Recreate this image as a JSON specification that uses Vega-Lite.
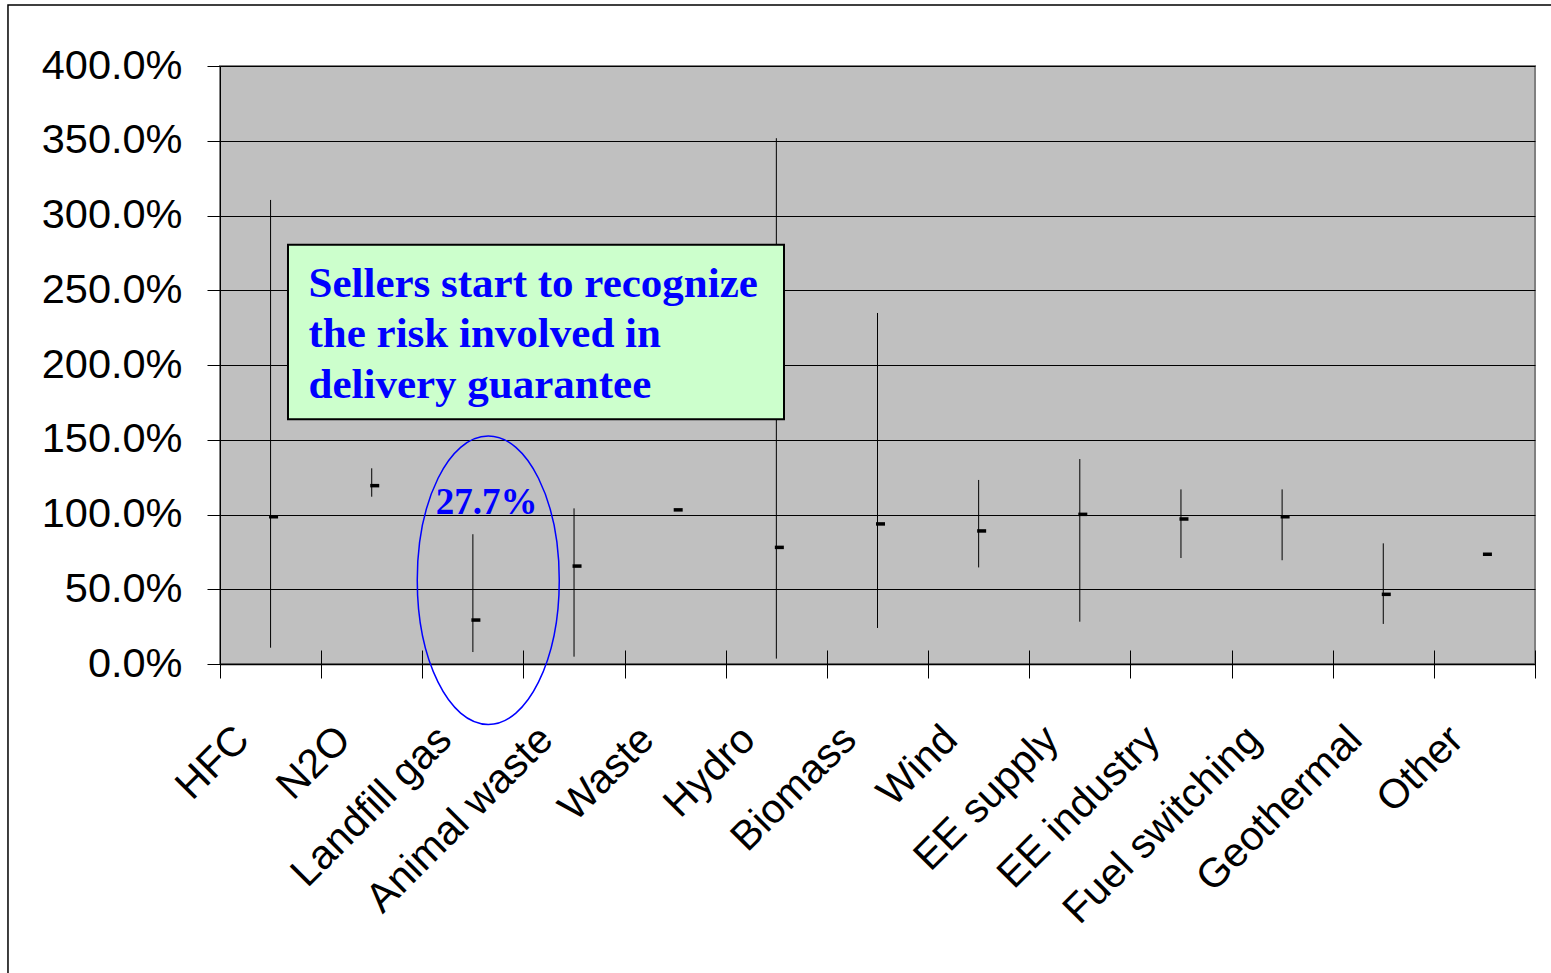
{
  "$schema": "https://vega.github.io/schema/vega-lite/v6.json",
  "width": 1315,
  "height": 598,
  "autosize": {"type": "none"},
  "padding": {"left": 220, "top": 66, "right": 16, "bottom": 309},
  "background": "white",
  "config": {
    "view": {"fill": "#C0C0C0", "stroke": "#808080", "strokeWidth": 2}
  },
  "data": {
    "values": [
      {"cat": "HFC", "low": 0.109, "high": 3.104, "mean": 0.985},
      {"cat": "N2O", "low": 1.119, "high": 1.309, "mean": 1.193},
      {"cat": "Landfill gas", "low": 0.080, "high": 0.868, "mean": 0.294},
      {"cat": "Animal waste", "low": 0.049, "high": 1.041, "mean": 0.655},
      {"cat": "Waste", "low": null, "high": null, "mean": 1.031},
      {"cat": "Hydro", "low": 0.036, "high": 3.517, "mean": 0.780},
      {"cat": "Biomass", "low": 0.241, "high": 2.348, "mean": 0.937},
      {"cat": "Wind", "low": 0.646, "high": 1.231, "mean": 0.890},
      {"cat": "EE supply", "low": 0.283, "high": 1.371, "mean": 1.001},
      {"cat": "EE industry", "low": 0.709, "high": 1.168, "mean": 0.970},
      {"cat": "Fuel switching", "low": 0.694, "high": 1.168, "mean": 0.985},
      {"cat": "Geothermal", "low": 0.268, "high": 0.807, "mean": 0.466},
      {"cat": "Other", "low": null, "high": null, "mean": 0.734}
    ]
  },
  "layer": [
    {
      "transform": [{"filter": "datum.high != null"}],
      "mark": {"type": "rule", "color": "#000000", "strokeWidth": 1},
      "encoding": {
        "x": {
          "field": "cat", "type": "nominal",
          "scale": {"domain": ["HFC", "N2O", "Landfill gas", "Animal waste", "Waste", "Hydro", "Biomass", "Wind", "EE supply", "EE industry", "Fuel switching", "Geothermal", "Other"], "paddingInner": 0, "paddingOuter": 0},
          "axis": {
            "orient": "bottom", "title": null, "grid": false,
            "domain": true, "domainColor": "#000000", "domainWidth": 1.5,
            "ticks": true, "tickSize": 14, "tickColor": "#000000", "tickWidth": 1, "tickBand": "extent",
            "labelAngle": -45, "labelAlign": "right", "labelBaseline": "middle",
            "labelOffset": -28, "labelPadding": 55,
            "labelFont": "Liberation Sans", "labelFontSize": 41, "labelColor": "#000000", "labelLimit": 600
          }
        },
        "y": {
          "field": "low", "type": "quantitative",
          "scale": {"domain": [0, 4], "nice": false},
          "axis": {
            "orient": "left",
            "title": null, "values": [0, 0.5, 1, 1.5, 2, 2.5, 3, 3.5, 4], "format": ".1%",
            "grid": true, "gridColor": "#000000", "gridWidth": 1, "gridOpacity": 1,
            "domain": true, "domainColor": "#000000", "domainWidth": 1,
            "ticks": true, "tickColor": "#000000", "tickSize": 13, "tickWidth": 1,
            "labelFont": "Liberation Sans", "labelFontSize": 41.5, "labelColor": "#000000",
            "labelPadding": 25, "labelLimit": 600
          }
        },
        "y2": {"field": "high"}
      }
    },
    {
      "mark": {"type": "tick", "color": "#000000", "size": 9, "thickness": 3.5, "xOffset": 3, "opacity": 1},
      "encoding": {
        "x": {
          "field": "cat", "type": "nominal",
          "scale": {"domain": ["HFC", "N2O", "Landfill gas", "Animal waste", "Waste", "Hydro", "Biomass", "Wind", "EE supply", "EE industry", "Fuel switching", "Geothermal", "Other"], "paddingInner": 0, "paddingOuter": 0},
          "axis": {
            "orient": "bottom", "offset": -14, "title": null, "grid": false, "domain": false, "labels": false,
            "ticks": true, "tickSize": 14, "tickColor": "#000000", "tickWidth": 1, "tickBand": "extent"
          }
        },
        "y": {"field": "mean", "type": "quantitative", "scale": {"domain": [0, 4], "nice": false}}
      }
    },
    {
      "data": {"values": [{}]},
      "mark": {"type": "rect", "fill": "#ffffff", "fillOpacity": 0, "stroke": "#000000", "strokeWidth": 1.5},
      "encoding": {
        "x": {"datum": -2.096, "type": "quantitative", "scale": {"domain": [0, 13], "nice": false, "zero": false}, "axis": null},
        "x2": {"datum": 13.4},
        "y": {"datum": 4.408, "type": "quantitative", "scale": {"domain": [0, 4], "nice": false}},
        "y2": {"datum": -2.5}
      }
    },
    {
      "data": {"values": [{}]},
      "mark": {"type": "rect", "fill": "#CCFFCC", "stroke": "#000000", "strokeWidth": 2},
      "encoding": {
        "x": {"datum": 0.6722, "type": "quantitative", "scale": {"domain": [0, 13], "nice": false, "zero": false}, "axis": null},
        "x2": {"datum": 5.5757},
        "y": {"datum": 2.8047, "type": "quantitative", "scale": {"domain": [0, 4], "nice": false}},
        "y2": {"datum": 1.6368}
      }
    },
    {
      "data": {"values": [{}]},
      "mark": {
        "type": "text",
        "text": ["Sellers start to recognize", "the risk involved in", "delivery guarantee"],
        "font": "Liberation Serif", "fontWeight": "bold", "fontSize": 43, "lineHeight": 50.5,
        "color": "#0000FF", "align": "left", "baseline": "alphabetic"
      },
      "encoding": {
        "x": {"datum": 0.875, "type": "quantitative", "scale": {"domain": [0, 13], "nice": false, "zero": false}, "axis": null},
        "y": {"datum": 2.455, "type": "quantitative", "scale": {"domain": [0, 4], "nice": false}}
      }
    },
    {
      "data": {"values": [{}]},
      "mark": {
        "type": "point",
        "shape": "M -0.4924 0 A 0.4924 1 0 1 0 0.4924 0 A 0.4924 1 0 1 0 -0.4924 0 Z",
        "size": 83175, "filled": false, "stroke": "#0000FF", "strokeWidth": 1.5, "opacity": 1
      },
      "encoding": {
        "x": {"datum": 2.652, "type": "quantitative", "scale": {"domain": [0, 13], "nice": false, "zero": false}, "axis": null},
        "y": {"datum": 0.5605, "type": "quantitative", "scale": {"domain": [0, 4], "nice": false}}
      }
    },
    {
      "data": {"values": [{}]},
      "mark": {
        "type": "text", "text": "27.7%",
        "font": "Liberation Serif", "fontWeight": "bold", "fontSize": 37,
        "color": "#0000FF", "align": "center", "baseline": "alphabetic"
      },
      "encoding": {
        "x": {"datum": 2.637, "type": "quantitative", "scale": {"domain": [0, 13], "nice": false, "zero": false}, "axis": null},
        "y": {"datum": 1.0013, "type": "quantitative", "scale": {"domain": [0, 4], "nice": false}}
      }
    }
  ],
  "resolve": {"scale": {"x": "independent"}}
}
